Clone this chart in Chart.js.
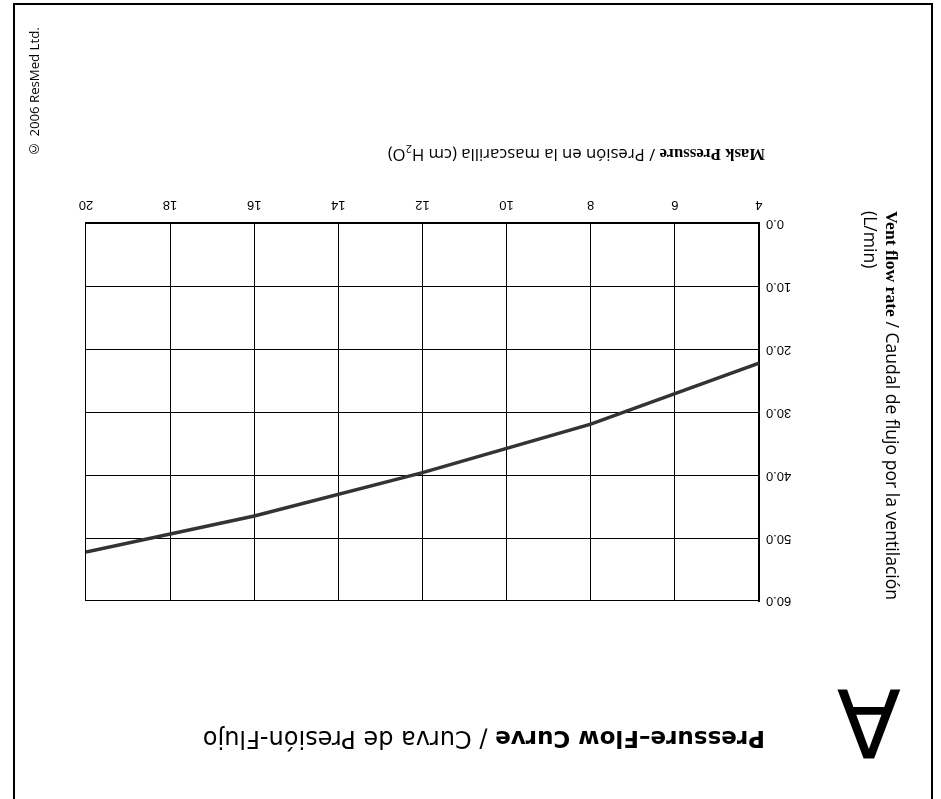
<!DOCTYPE html>
<html>
<head>
<meta charset="utf-8">
<script src="https://cdn.jsdelivr.net/npm/chart.js@4.4.1/dist/chart.umd.min.js"></script>
<style>
  html, body { margin: 0; padding: 0; background: #fff; }
  body { width: 941px; height: 799px; overflow: hidden; position: relative; }
  #page { position: absolute; left: 0; top: 0; width: 941px; height: 799px; transform: rotate(180deg); transform-origin: 50% 50%; }
  #frame { position: absolute; left: 8px; top: -10px; width: 920px; height: 806px; box-sizing: border-box; border: 2.5px solid #000; border-top: none; }
  #cv { position: absolute; left: 0; top: 0; }
  .t { position: absolute; white-space: nowrap; color: #000; }
  #title { left: 176px; top: 46px; font-size: 24px; font-family: "DejaVu Sans", sans-serif; }
  #title b { font-weight: 900; font-size: 23px; }
  #letterA { left: 40px; top: 31px; font-size: 94px; line-height: 94px; font-family: "DejaVu Sans", sans-serif; }
  #copy { left: 898px; top: 641px; font-size: 13.2px; font-family: "Open Sans", sans-serif; writing-mode: vertical-rl; }
  #ytitle { left: 38px; top: 588px; transform: rotate(-90deg); transform-origin: 0 0; font-size: 17.6px; line-height: 21px; font-family: "Open Sans", sans-serif; }
  #ytitle b, #xtitle b { font-family: "Liberation Serif", serif; font-weight: bold; }
  #xtitle { left: 176px; top: 633px; font-size: 16.7px; line-height: 21px; font-family: "Open Sans", sans-serif; }
</style>
</head>
<body>
<div id="page">
  <div id="frame"></div>
  <canvas id="cv" width="941" height="799"></canvas>
  <div class="t" id="letterA">A</div>
  <div class="t" id="title"><b>Pressure–Flow Curve</b> / Curva de Presión-Flujo</div>
  <div class="t" id="copy">© 2006 ResMed Ltd.</div>
  <div class="t" id="ytitle"><b>Vent flow rate</b> / Caudal de flujo por la ventilación<br>(L/min)</div>
  <div class="t" id="xtitle"><b>Mask Pressure</b> / Presión en la mascarilla (cm H<sub style="font-size:11px">2</sub>O)</div>
</div>
<script>
// Data
const maskPressure = [4, 8, 12, 16, 20];            // cm H2O
const ventFlow = [22.2, 31.9, 39.6, 46.5, 52.2];    // L/min
const xTicks = [4, 6, 8, 10, 12, 14, 16, 18, 20];
const yTicks = [0, 10, 20, 30, 40, 50, 60];

const points = maskPressure.map((x, i) => ({ x: x, y: ventFlow[i] }));

new Chart(document.getElementById('cv'), {
  type: 'line',
  data: {
    datasets: [{
      data: points,
      borderColor: '#333333',
      borderWidth: 3.5,
      pointRadius: 0,
      tension: 0,
      fill: false
    }]
  },
  options: {
    responsive: false,
    animation: false,
    events: [],
    layout: { padding: { left: 142, right: 86, top: 198, bottom: 193.5 } },
    plugins: { legend: { display: false }, tooltip: { enabled: false } },
    scales: {
      x: {
        type: 'linear',
        min: xTicks[0],
        max: xTicks[xTicks.length - 1],
        afterBuildTicks: (ax) => { ax.ticks = xTicks.map(v => ({ value: v })); },
        afterFit: (ax) => { ax.height = 30; },
        ticks: { color: '#000', font: { family: 'Liberation Sans', size: 13 }, padding: 11, maxRotation: 0, autoSkip: false },
        grid: { color: '#000', lineWidth: 1, drawTicks: false },
        border: { color: '#000', width: 2 }
      },
      y: {
        type: 'linear',
        min: yTicks[0],
        max: yTicks[yTicks.length - 1],
        afterBuildTicks: (ax) => { ax.ticks = yTicks.map(v => ({ value: v })); },
        afterFit: (ax) => { ax.width = 40; },
        ticks: { color: '#000', font: { family: 'Liberation Sans', size: 13 }, padding: 7, callback: (v) => Number(v).toFixed(1) },
        grid: { color: '#000', lineWidth: 1, drawTicks: false },
        border: { color: '#000', width: 2 }
      }
    }
  }
});
</script>
</body>
</html>
